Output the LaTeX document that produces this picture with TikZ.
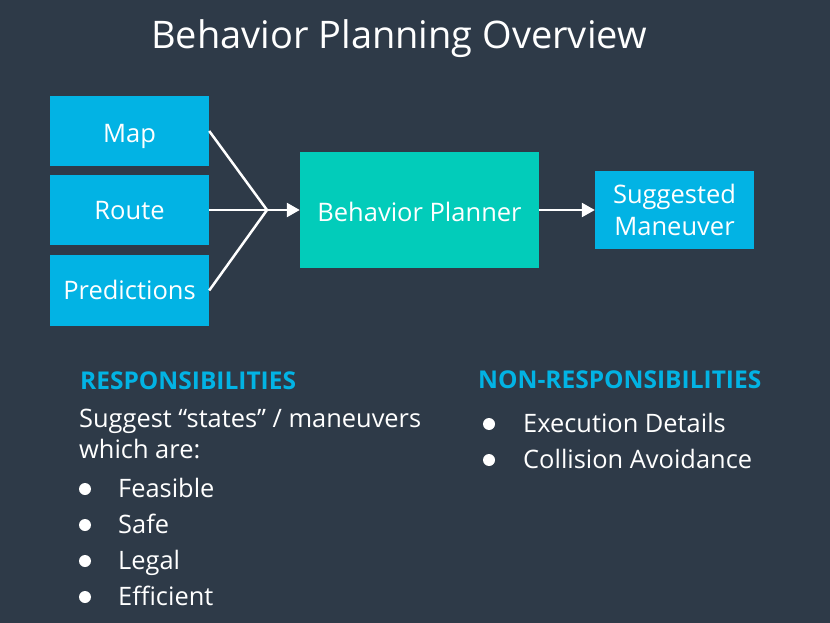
\documentclass[tikz,border=0pt]{standalone}
\usepackage{fontspec}
\setmainfont{Open Sans}
\usetikzlibrary{arrows.meta}
\definecolor{bg}{HTML}{2E3A48}
\definecolor{ublue}{HTML}{02B3E4}
\definecolor{uteal}{HTML}{02CCBA}
\tikzset{
  boxtext/.style={text=white, inner sep=0pt, text height=18pt, text depth=0pt, font=\fontsize{25.5}{31}\selectfont},
  inbox/.style={rectangle, fill=ublue, boxtext, minimum width=159pt, minimum height=70pt},
  planner/.style={rectangle, fill=uteal, boxtext, minimum width=239pt, minimum height=116pt},
  outbox/.style={rectangle, fill=ublue, text=white, minimum width=159pt, minimum height=78pt, inner sep=0pt, align=center, font=\fontsize{25.5}{31.5}\selectfont},
  conn/.style={draw=white, line width=2.5pt},
  arr/.style={conn, -{Triangle[length=13pt, width=14pt]}},
  heading/.style={anchor=base west, inner sep=0pt, text=ublue, font=\fontsize{24.5}{29}\selectfont\bfseries},
  body/.style={anchor=base west, inner sep=0pt, text=white, font=\fontsize{25.4}{31}\selectfont},
  bulletdot/.style={circle, fill=white, minimum size=12pt, inner sep=0pt}
}
\begin{document}
\begin{tikzpicture}[x=1pt,y=-1pt]
\fill[bg] (0,0) rectangle (830,623);
\useasboundingbox (0,0) rectangle (830,623);
\node[anchor=base, inner sep=0pt, text=white, font=\fontsize{38}{44}\selectfont] (title) at (399,49) {Behavior Planning Overview};
\node[inbox] (map) at (129.5,131) {\raisebox{-2pt}{Map}};
\node[inbox] (route) at (129.5,210) {Route};
\node[inbox, minimum height=71pt] (pred) at (129.5,290.5) {Predictions};
\node[planner] (bp) at (419.5,210) {\raisebox{-2pt}{Behavior Planner}};
\node[outbox] (sm) at (674.5,210) {Suggested\\Maneuver};
\coordinate (j) at (267,210);
\draw[conn] (map.east) -- (j);
\draw[conn] (route.east) -- (j);
\draw[conn] (pred.east) -- (j);
\draw[arr] (j) -- (bp.west);
\draw[arr] (bp.east) -- (sm.west);
% left column
\node[heading] (resp) at (80,389) {RESPONSIBILITIES};
\node[body] (sug1) at (79,427) {Suggest “states” / maneuvers};
\node[body] (sug2) at (79,458) {which are:};
\node[bulletdot] (b1) at (85,489) {};
\node[body] (t1) at (118,497) {Feasible};
\node[bulletdot] (b2) at (85,525) {};
\node[body] (t2) at (118,533) {Safe};
\node[bulletdot] (b3) at (85,561) {};
\node[body] (t3) at (118,569) {Legal};
\node[bulletdot] (b4) at (85,597) {};
\node[body] (t4) at (118,605) {Efficient};
% right column
\node[heading] (nresp) at (478,388) {NON-RESPONSIBILITIES};
\node[bulletdot] (b5) at (489,424) {};
\node[body] (t5) at (523,432) {Execution Details};
\node[bulletdot] (b6) at (489,460) {};
\node[body] (t6) at (523,468) {Collision Avoidance};
\end{tikzpicture}
\end{document}
